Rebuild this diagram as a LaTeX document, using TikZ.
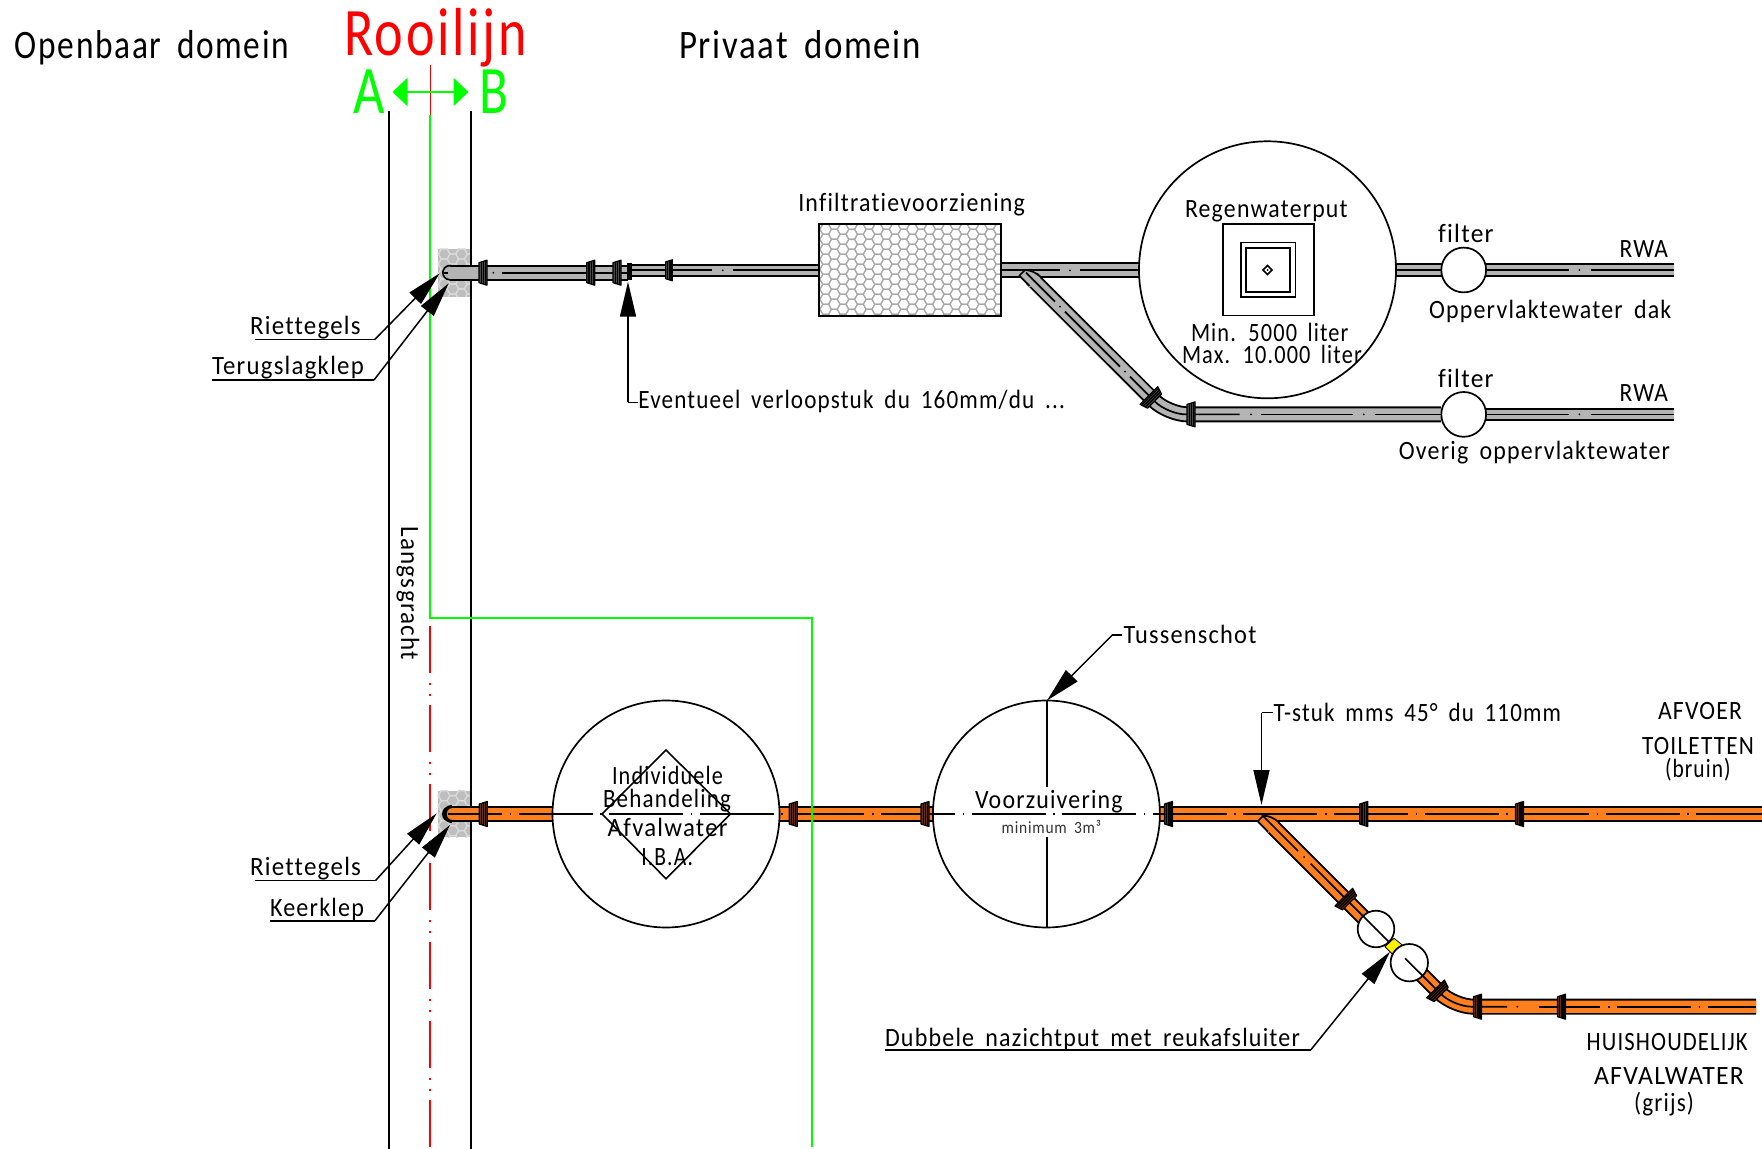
\documentclass[tikz,border=0pt]{standalone}
\usepackage{fontspec}
\usepackage{graphicx}
\usetikzlibrary{arrows.meta}
\setmainfont[LetterSpace=5,WordSpace=1.7,RawFeature={-liga;-clig;-dlig}]{Carlito}
\definecolor{pgrey}{HTML}{B4B4B4}
\definecolor{porange}{HTML}{FF7F1E}
\definecolor{sgrey}{HTML}{484848}
\definecolor{sbrown}{HTML}{63300C}
\definecolor{lgreen}{HTML}{00FF00}
\definecolor{lred}{HTML}{FF0000}
\definecolor{hatch}{HTML}{A8A8A8}
\definecolor{tile}{HTML}{BEBEBE}
\definecolor{tilehex}{HTML}{DADADA}
\tikzset{
  wall/.style={line width=.95pt,draw=black},
  cl/.style={line width=.85pt,draw=black},
  lead/.style={line width=.75pt,draw=black,-{Triangle[length=17.5pt,width=8pt]}},
  plain/.style={line width=.75pt,draw=black},
  putc/.style={circle,draw=black,fill=white,line width=.85pt,inner sep=0pt,outer sep=0pt},
  dashrow/.style={cl,dash pattern=on 37pt off 3.8pt on .8pt off 3.7pt}
}
% [colour]{name}{x}{baseline y}{width px}{font size}{text}
\newcommand\lab[7][black]{\node[anchor=base west,inner sep=0pt,outer sep=0pt,text=#1] (#2) at ({#3},{#4+1}) {\fontsize{#6}{#6}\selectfont\resizebox{0.5\dimexpr #5pt\relax}{\height}{#7}};}
% big pipe: {path}{colour}
\newcommand\bigpipe[2]{\draw[line width=8pt,black,line join=round] #1;\draw[line width=6.1pt,#2,line join=round] #1;}
\newcommand\smallpipe[2]{\draw[line width=6.6pt,black] #1;\draw[line width=4.6pt,#2] #1;}
% socket {x}{y}{rot}{fill}
\newcommand\sock[4]{\begin{scope}[shift={(#1,#2)},rotate=#3]
  \draw[fill=#4,line width=.6pt,line join=round] (-4,-10)--(4,-12.5)--(4,12.5)--(-4,10)--cycle;
  \draw[line width=.6pt] (-1.8,-10.6)--(-1.8,10.6) (.4,-11.2)--(.4,11.2) (2.4,-11.9)--(2.4,11.9);
\end{scope}}
% T branch start
\newcommand\tcap[3]{\begin{scope}[shift={(#1,#2)}]
  \fill[#3] (1257.7,821.3)--(1263.3,815.7)..controls (1269,815.7) and (1274,818)..(1279,822.5)--(1268,833)--cycle;
  \draw[line width=.85pt,line join=round] (1268,831.6)--(1257.7,821.3)--(1263.3,815.7)..controls (1269,815.7) and (1274,818)..(1279,822.5);
\end{scope}}
% hexagon fill {x1}{y1}{x2}{y2}{columns}
\newcommand\hexfill[5]{\begin{scope}
  \clip (#1,#2) rectangle (#3,#4);
  \foreach \c in {0,...,#5}{\pgfmathsetmacro\oy{mod(\c,2)*5}
    \foreach \r in {0,...,10}{
      \draw[line width=.55pt,hexc] ({#1+\c*8.67-2},{#2+\r*10+\oy}) ++(-5.8,0) --++(2.9,-5)--++(5.8,0)--++(2.9,5)--++(-2.9,5)--++(-5.8,0)--cycle;
    }}
\end{scope}}
\begin{document}
\begin{tikzpicture}[x=.5pt,y=-.5pt]
\useasboundingbox (0,0) rectangle (1762,1149);
\fill[white] (0,0) rectangle (1762,1149);

% riet tiles
\fill[tile] (437.5,249) rectangle (471,297);
\colorlet{hexc}{tilehex}
\hexfill{437.5}{249}{471}{297}{5}
\fill[tile] (437.5,790.7) rectangle (471.5,837.3);
\hexfill{437.5}{790.7}{471.5}{837.3}{5}

% walls
\coordinate (wa1) at (389,110.7); \coordinate (wa2) at (389,1149);
\coordinate (wb1) at (471,110.7); \coordinate (wb2) at (471,1149);
\draw[wall] (wa1)--(wa2);
\draw[wall] (wb1)--(wb2);

% red rooilijn
\coordinate (r1) at (430.3,65); \coordinate (r2) at (430.3,115);
\draw[line width=.7pt,lred] (r1)--(r2);
\coordinate (r3) at (430.3,626); \coordinate (r4) at (430.3,1149);
\draw[line width=.95pt,lred,dash pattern=on 23.5pt off 5pt on .9pt off 4.8pt on .9pt off 4.4pt] (r3)--(r4);

% grey upper pipe
\fill[black] (450,272.7) circle[radius=8];
\fill[pgrey] (450,272.7) circle[radius=6.2];
\bigpipe{(450,272.7)--(628,272.7)}{pgrey}
\smallpipe{(628,270.3)--(820,270.3)}{pgrey}
\draw[cl] (444,272.7)--(448,272.7) (501.7,272.7)--(627,272.7);
\fill (493.3,272.7) circle[radius=1];
\draw[cl] (632,270.3)--(711.7,270.3) (733,270.3)--(820,270.3);
\fill (722.7,270.3) circle[radius=1];
\sock{483}{272.7}{0}{sgrey}
\sock{590.7}{272.7}{0}{sgrey}
\sock{617}{272.7}{0}{sgrey}
\fill[black] (626.5,262.7) rectangle (632,280);
\begin{scope}[shift={(669,270.3)},scale=.84]\sock{0}{0}{0}{sgrey}\end{scope}

% grey branch
\bigpipe{(1000,270.3)--(1140,270.3)}{pgrey}
\draw[cl] (1001,270.3)--(1060,270.3) (1080,270.3)--(1140,270.3);
\fill (1070,270.3) circle[radius=1];
\draw[line width=8pt,black,rounded corners=10pt] (1032,278.7)--(1167.8,414.4)--(1441,414.4);
\draw[line width=6.1pt,pgrey,rounded corners=10pt] (1032,278.7)--(1167.8,414.4)--(1441,414.4);
\tcap{-238.4}{-545.6}{pgrey}
\draw[cl] (1026,272.7)--(1055,301.7) (1065,311.7)--(1120,366.7);
\fill (1060,306.7) circle[radius=1];
\fill (1125,371.7) circle[radius=1];
\draw[cl,rounded corners=9pt] (1130,376.7)--(1167.8,414.4)--(1239.6,414.4);
\draw[cl] (1261.4,414.4)--(1353,414.4) (1374.7,414.4)--(1441,414.4);
\fill (1251,414.4) circle[radius=1];
\fill (1363.8,414.4) circle[radius=1];
\sock{1151.7}{398.3}{135}{sgrey}
\sock{1191}{414.4}{0}{sgrey}

% grey small pipes to RWA
\smallpipe{(1396,270)--(1674,270)}{pgrey}
\smallpipe{(1463,414.4)--(1674,414.4)}{pgrey}
\draw[cl] (1396,270)--(1569,270) (1590.7,270)--(1674,270);
\draw[cl] (1463,414.4)--(1569,414.4) (1590.7,414.4)--(1674,414.4);
\fill (1579.4,270) circle[radius=1];
\fill (1579.4,414.4) circle[radius=1];

% infiltration box
\fill[white] (819,224.3) rectangle (1001,315.7);
\colorlet{hexc}{hatch}
\hexfill{819}{224.3}{1001}{315.7}{24}
\draw[line width=.85pt] (819,224.3) rectangle (1001,315.7);
\node[inner sep=0pt] (infil) at (910,270) {};

% rain well and filters
\node[putc,minimum size=128.5pt] (regen) at (1267.5,269.8) {};
\node[putc,minimum size=22.4pt] (f1) at (1463.7,270) {};
\node[putc,minimum size=22.4pt] (f2) at (1463.7,414.4) {};
\draw[line width=.8pt] (1222.7,224.3) rectangle (1313.8,315.7);
\draw[line width=.8pt] (1240.8,242.7) rectangle (1295.3,297.3);
\draw[line width=.95pt] (1245.7,248.3) rectangle (1290,292.3);
\draw[line width=.85pt] (1263,270)--(1267.5,265.5)--(1272,270)--(1267.5,274.5)--cycle;
\fill (1267.5,270) circle[radius=1];

% orange main pipe
\fill[black] (450,814) circle[radius=8];
\fill[porange] (450,814) circle[radius=6.2];
\bigpipe{(450,814)--(1762,814)}{porange}
\draw[line width=1.6pt] (452,806.5)..controls (443,806.5) and (443,821.5)..(452,821.5);

% pits
\node[putc,minimum size=113.5pt] (iba) at (666,814) {};
\node[putc,minimum size=113.5pt] (voor) at (1046.4,814) {};
\draw[line width=.8pt] (666,750)--(730.5,814)--(666,878.7)--(602,814)--cycle;
\coordinate (vt) at (1047,700.5); \coordinate (vb) at (1047,927.5);
\draw[line width=.95pt] (vt)--(1047,786.7) (1047,837.3)--(vb);
\draw[dashrow,dash phase=10pt] (448,814)--(1762,814);

\sock{483.3}{814}{0}{sbrown}
\sock{793.2}{814}{0}{sbrown}
\sock{925}{814}{0}{sbrown}
\sock{1168.5}{814}{0}{sbrown}
\sock{1363.7}{814}{0}{sbrown}
\sock{1519.5}{814}{0}{sbrown}

% orange branch
\bigpipe{(1272,826)--(1380,934)}{porange}
\tcap{0}{0}{porange}
\draw[cl] (1262,815)--(1298,851) (1310.7,863.7)--(1390,943.3);
\fill (1304,857) circle[radius=1];
\draw[line width=8pt,black,rounded corners=10pt] (1405,958)--(1453.7,1006.7)--(1756,1006.7);
\draw[line width=6.1pt,porange,rounded corners=10pt] (1405,958)--(1453.7,1006.7)--(1756,1006.7);
\fill[yellow,draw=black,line width=.4pt] (1385,946.7)--(1394,938.3)--(1402.3,945)--(1393.3,955)--cycle;
\node[putc,minimum size=18.3pt] (n1) at (1376,929) {};
\node[putc,minimum size=18.7pt] (n2) at (1409.3,962.7) {};
\draw[cl] (1363.3,916.3)--(1389.5,942.5);
\draw[cl,rounded corners=9pt] (1405,958.3)--(1453.7,1006.7)--(1507,1006.7);
\draw[dashrow,dash phase=51.5pt] (1538.7,1006.7)--(1756,1006.7);
\fill (1517.3,1006.7) circle[radius=1];
\sock{1346.7}{900}{135}{sbrown}
\sock{1438.3}{991.7}{135}{sbrown}
\sock{1477.5}{1006.7}{0}{sbrown}
\sock{1561.5}{1006.7}{0}{sbrown}

% green lines
\coordinate (g1) at (430.3,115); \coordinate (g2) at (430.3,618);
\coordinate (g3) at (812.3,618); \coordinate (g4) at (812.3,1146.7);
\draw[line width=.85pt,lgreen] (g1)--(g2)--(g3)--(g4);
\coordinate (ga) at (392.5,92); \coordinate (gb) at (468.5,92);
\draw[line width=.9pt,lgreen,{Triangle[length=7.5pt,width=14pt]}-{Triangle[length=7.5pt,width=14pt]}] (ga)--(gb);

% texts
\lab{openbaar}{15}{58}{274}{20.2}{Openbaar domein}
\lab{prive}{679}{58}{242}{20.2}{Privaat domein}
\lab[lred]{rooi}{344}{55}{183}{34}{Rooilijn}
\lab[lgreen]{lettera}{353.6}{113}{31.5}{34}{A}
\lab[lgreen]{letterb}{479}{113}{29}{34}{B}
\lab{t1}{250}{334}{110.7}{13.2}{Riettegels}
\lab{t2}{212}{374}{151.8}{13.2}{Terugslagklep}
\lab{t3}{250}{874.3}{111}{13.2}{Riettegels}
\lab{t4}{270}{915}{94}{13.2}{Keerklep}
\lab{t5}{638.4}{407.5}{426.6}{13.2}{Eventueel verloopstuk du 160mm/du ...}
\lab{t6}{798.3}{211}{226.7}{13.2}{Infiltratievoorziening}
\lab{t7}{1185}{216.7}{162.6}{13.2}{Regenwaterput}
\lab{t8}{1191}{340.7}{157.5}{13.2}{Min. 5000 liter}
\lab{t9}{1182}{362.3}{179.8}{13.2}{Max. 10.000 liter}
\lab{t10}{1438}{241.7}{55.6}{13.2}{filter}
\lab{t11}{1438}{386.7}{55.6}{13.2}{filter}
\lab{t12}{1619.7}{256.7}{48.3}{13.2}{RWA}
\lab{t13}{1619.7}{400.7}{48.3}{13.2}{RWA}
\lab{t14}{1429}{317.3}{242.3}{13.2}{Oppervlaktewater dak}
\lab{t15}{1398.8}{458.3}{271.2}{13.2}{Overig oppervlaktewater}
\lab{t16}{612}{783}{111}{13.2}{Individuele}
\lab{t17}{603}{806.7}{128}{13.2}{Behandeling}
\lab{t18}{607.7}{835.7}{119.8}{13.2}{Afvalwater}
\lab{t19}{641.4}{864}{51.6}{13.2}{I.B.A.}
\lab{t20}{975}{807.3}{147.7}{13.2}{Voorzuivering}
\lab[black!80]{t21}{1001.7}{832.7}{99.3}{8.6}{minimum 3m³}
\lab{t22}{1123.5}{642.7}{133}{13.2}{Tussenschot}
\lab{t23}{1273.5}{720.7}{287.5}{13.2}{T-stuk mms 45° du 110mm}
\lab{t24}{1658}{718.3}{84}{13.2}{AFVOER}
\lab{t25}{1642}{753.3}{112}{13.2}{TOILETTEN}
\lab{t26}{1665}{776}{65.6}{13.2}{(bruin)}
\lab{t27}{1586.7}{1049.3}{161}{13.2}{HUISHOUDELIJK}
\lab{t28}{1594}{1083.3}{150}{13.2}{AFVALWATER}
\lab{t29}{1634}{1110.7}{60}{13.2}{(grijs)}
\lab{t30}{885}{1045}{415}{13.2}{Dubbele nazichtput met reukafsluiter}
\node[anchor=base west,inner sep=0pt,rotate=-90] (langs) at (401,526) {\fontsize{13.2}{13.2}\selectfont\resizebox{0.5\dimexpr 134pt\relax}{\height}{Langsgracht}};

% leaders
\coordinate (a1) at (254.5,339.3); \coordinate (a2) at (375,339.3); \coordinate (a3) at (439.7,273.3);
\draw[plain] (a1)--(a2); \draw[lead] (a2)--(a3);
\coordinate (b1) at (212,380); \coordinate (b2) at (374,380); \coordinate (b3) at (448.7,283.3);
\draw[plain] (b1)--(b2); \draw[lead] (b2)--(b3);
\coordinate (c1) at (254.9,880.7); \coordinate (c2) at (375.4,880.7); \coordinate (c3) at (436.7,813.3);
\draw[plain] (c1)--(c2); \draw[lead] (c2)--(c3);
\coordinate (d1) at (270,921); \coordinate (d2) at (374.7,921); \coordinate (d3) at (450,825);
\draw[plain] (d1)--(d2); \draw[lead] (d2)--(d3);
\coordinate (e1) at (637.5,402.3); \coordinate (e2) at (628,402.3); \coordinate (e3) at (628,281.7);
\draw[plain] (e1)--(e2); \draw[lead] (e2)--(e3);
\coordinate (f1c) at (1121.7,635); \coordinate (f2c) at (1112.3,635);
\draw[plain] (f1c)--(f2c); \draw[lead] (f2c)--(vt);
\coordinate (h1) at (1273,712.7); \coordinate (h2) at (1261.5,712.7); \coordinate (h3) at (1261.5,805);
\draw[plain] (h1)--(h2); \draw[lead] (h2)--(h3);
\coordinate (i1) at (885,1050); \coordinate (i2) at (1310.7,1050); \coordinate (i3) at (1390,951.7);
\draw[plain] (i1)--(i2); \draw[lead] (i2)--(i3);
\end{tikzpicture}
\end{document}
